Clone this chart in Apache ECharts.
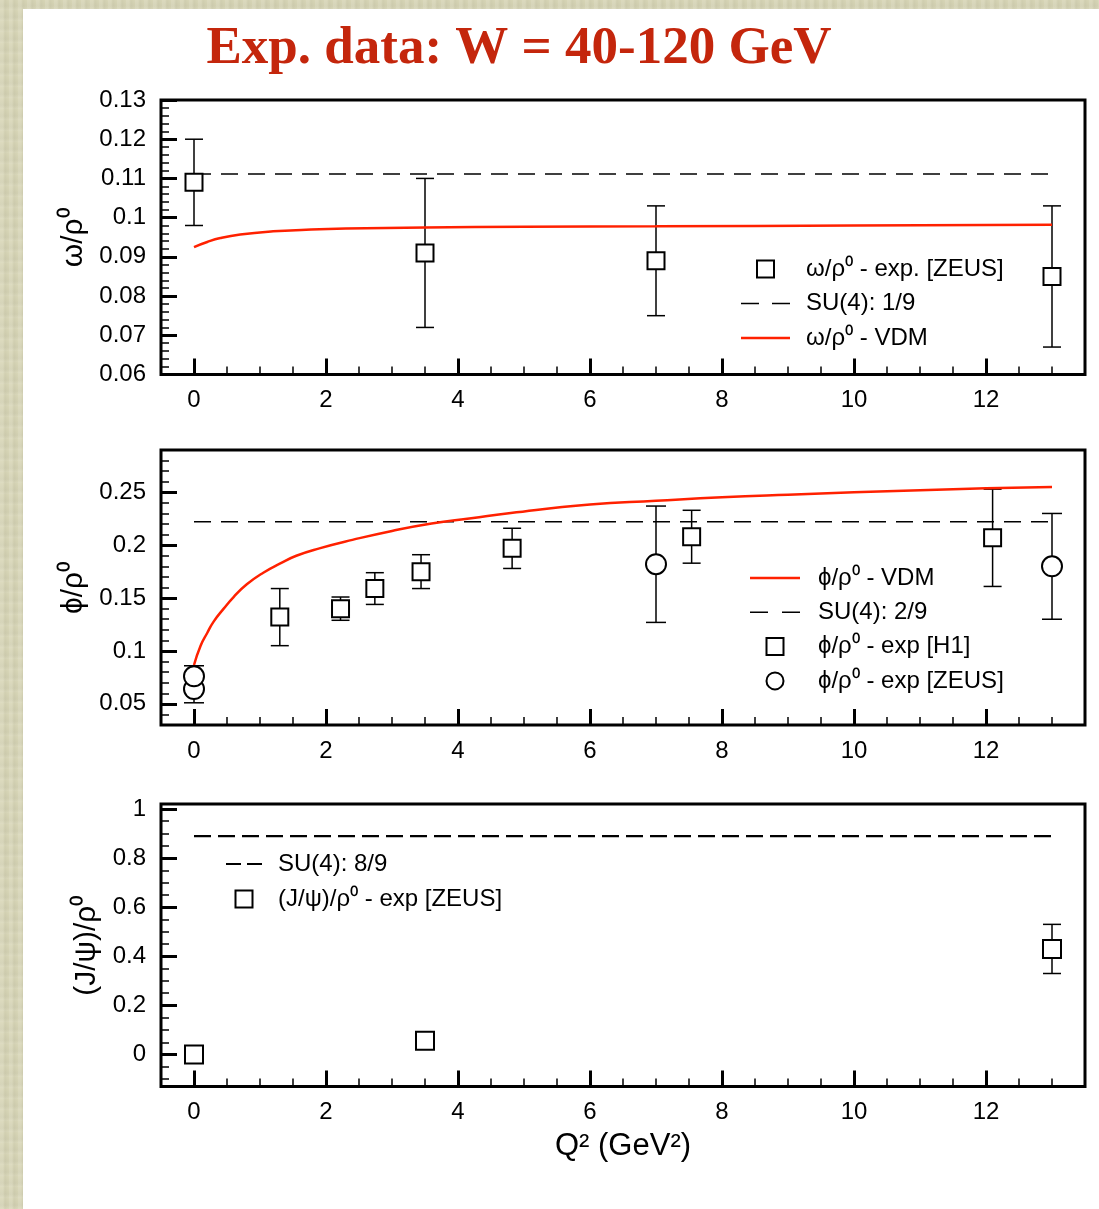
<!DOCTYPE html>
<html>
<head>
<meta charset="utf-8">
<script src="https://cdn.jsdelivr.net/npm/echarts@6/dist/echarts.min.js"></script>
<style>
  html, body { margin: 0; padding: 0; width: 1099px; height: 1209px; overflow: hidden; }
  body {
    background-color: #d8d6b7;
    background-image:
      repeating-linear-gradient(90deg, rgba(255,255,255,0.10) 0px, rgba(255,255,255,0.10) 3px, rgba(0,0,0,0.03) 5px, rgba(255,255,255,0) 9px),
      repeating-linear-gradient(0deg, rgba(255,255,255,0.06) 0px, rgba(0,0,0,0.03) 4px, rgba(255,255,255,0) 11px);
  }
  #sheet { position: absolute; left: 23px; top: 9px; right: 0; bottom: 0; background: #ffffff; }
  #chart { position: absolute; left: 0; top: 0; width: 1099px; height: 1209px; }
</style>
</head>
<body>
<div id="sheet"></div>
<div id="chart"></div>
<script>
// ---- omega / rho0 ----
const q2Omega = [0, 3.5, 7, 13];
const omegaRatio = [0.109, 0.091, 0.089, 0.085];
const omegaErr = [0.011, 0.019, 0.014, 0.018];
const q2OmegaVdm = [0, 0.2, 0.4, 0.7, 1.2, 1.7, 2.3, 3.5, 5, 7, 10, 13];
const omegaVdm = [0.0925, 0.0938, 0.0948, 0.0957, 0.0965, 0.0969, 0.0972, 0.0975, 0.0977, 0.0978, 0.0980, 0.0982];
const su4Omega = 1 / 9;

// ---- phi / rho0 ----
const q2PhiH1 = [1.3, 2.22, 2.74, 3.44, 4.82, 7.54, 12.1];
const phiH1 = [0.132, 0.140, 0.159, 0.175, 0.197, 0.208, 0.207];
const phiH1Err = [0.027, 0.011, 0.015, 0.016, 0.019, 0.025, 0.046];
const q2PhiZeus = [0, 0, 7, 13];
const phiZeus = [0.064, 0.076, 0.182, 0.180];
const phiZeusErr = [0.013, 0.010, 0.055, 0.050];
const q2PhiVdm = [0, 0.1, 0.2, 0.3, 0.45, 0.6, 0.8, 1.05, 1.3, 1.55, 1.9, 2.4, 3, 3.6, 4.2, 4.8, 6, 7, 8, 9, 10, 11, 12, 13];
const phiVdm = [0.0867, 0.105, 0.117, 0.128, 0.140, 0.151, 0.163, 0.174, 0.1825, 0.190, 0.197, 0.205, 0.2135, 0.2205, 0.2255, 0.2305, 0.2385, 0.242, 0.2453, 0.2478, 0.250, 0.252, 0.2538, 0.255];
const su4Phi = 2 / 9;

// ---- J/psi / rho0 ----
const q2Jpsi = [0, 3.5, 13];
const jpsiRatio = [0.0, 0.056, 0.43];
const jpsiErr = [0, 0, 0.1];
const su4Jpsi = 8 / 9;

// ---- axis ticks ----
const xTickLabels = [0, 2, 4, 6, 8, 10, 12];
const omegaTickLabels = [0.06, 0.07, 0.08, 0.09, 0.1, 0.11, 0.12, 0.13];
const phiTickLabels = [0.05, 0.1, 0.15, 0.2, 0.25];
const jpsiTickLabels = [0, 0.2, 0.4, 0.6, 0.8, 1];

const FONT = '"Liberation Sans", Arial, Helvetica, sans-serif';
const BLACK = '#000000';
const RED = '#ff2100';

// legend icons
const SQUARE_ICON = 'path://M0 0H10V10H0Z';
const SOLID_ICON = 'path://M0 0H49V2.5H0Z';
const DASH_ICON_49 = 'path://M0 0H18V1.6H0Z M31 0H49V1.6H31Z';
const DASH_ICON_50 = 'path://M0 0H18V1.6H0Z M32 0H50V1.6H32Z';
const DASH_ICON_36 = 'path://M0 0H15V2.2H0Z M21 0H36V2.2H21Z';

const rnd = v => Math.round(v * 10000) / 10000;
function steps(from, to, step, skip) {
  const out = [];
  const n = Math.round((to - from) / step);
  for (let i = 0; i <= n; i++) {
    const v = rnd(from + i * step);
    if (!skip.some(s => Math.abs(s - v) < 1e-9)) out.push(v);
  }
  return out;
}
const xMinor = steps(0.5, 13, 0.5, xTickLabels);

const panels = [
  { top: 100, height: 274.5, yMin: 0.06, yMax: 0.13, major: omegaTickLabels,
    minor: steps(0.062, 0.128, 0.002, omegaTickLabels), name: 'ω/ρ⁰', nameGap: 60 },
  { top: 450, height: 275, yMin: 0.03, yMax: 0.29, major: phiTickLabels,
    minor: steps(0.04, 0.28, 0.01, phiTickLabels), name: 'ϕ/ρ⁰', nameGap: 62 },
  { top: 804, height: 282.5, yMin: -0.13, yMax: 1.02, major: jpsiTickLabels,
    minor: steps(-0.1, 0.95, 0.05, jpsiTickLabels), name: '(J/ψ)/ρ⁰', nameGap: 43 }
];

const grids = [], xAxes = [], yAxes = [];
const hiddenLine = { show: false, onZero: false };
panels.forEach((p, i) => {
  grids.push({ left: 161, width: 924, top: p.top, height: p.height, show: true,
    borderColor: BLACK, borderWidth: 3, backgroundColor: 'transparent' });
  const labelStyle = { fontFamily: FONT, fontSize: 24, color: BLACK };
  // major x ticks with labels
  xAxes.push({ type: 'value', gridIndex: i, min: -0.5, max: 13.5, position: 'bottom',
    axisLine: hiddenLine, splitLine: { show: false },
    axisTick: { show: true, inside: true, length: 16, customValues: xTickLabels,
      lineStyle: { color: BLACK, width: 3 } },
    axisLabel: Object.assign({ show: true, margin: 14, customValues: xTickLabels }, labelStyle),
    name: i === 2 ? 'Q² (GeV²)' : '', nameLocation: 'middle', nameGap: 44,
    nameTextStyle: { fontFamily: FONT, fontSize: 31, color: BLACK } });
  // minor x ticks
  xAxes.push({ type: 'value', gridIndex: i, min: -0.5, max: 13.5, position: 'bottom',
    axisLine: hiddenLine, splitLine: { show: false }, axisLabel: { show: false },
    axisTick: { show: true, inside: true, length: 8, customValues: xMinor,
      lineStyle: { color: BLACK, width: 1.5 } } });
  // major y ticks with labels
  yAxes.push({ type: 'value', gridIndex: i, min: p.yMin, max: p.yMax, position: 'left',
    axisLine: hiddenLine, splitLine: { show: false },
    axisTick: { show: true, inside: true, length: 16, customValues: p.major,
      lineStyle: { color: BLACK, width: 3 } },
    axisLabel: Object.assign({ show: true, margin: 15, customValues: p.major,
      formatter: v => String(rnd(v)) }, labelStyle),
    name: p.name, nameLocation: 'middle', nameGap: p.nameGap,
    nameTextStyle: { fontFamily: FONT, fontSize: 30, color: BLACK } });
  // minor y ticks
  yAxes.push({ type: 'value', gridIndex: i, min: p.yMin, max: p.yMax, position: 'left',
    axisLine: hiddenLine, splitLine: { show: false }, axisLabel: { show: false },
    axisTick: { show: true, inside: true, length: 8, customValues: p.minor,
      lineStyle: { color: BLACK, width: 1.5 } } });
});

function errorBars(axis, xs, ys, lo, hi, cap) {
  return {
    type: 'custom', xAxisIndex: axis, yAxisIndex: axis, z: 3, silent: true,
    data: xs.map((x, k) => [x, ys[k] - lo[k], ys[k] + hi[k]]).filter(d => d[2] > d[1]),
    renderItem(params, api) {
      const a = api.coord([api.value(0), api.value(1)]);
      const b = api.coord([api.value(0), api.value(2)]);
      const h = cap / 2;
      const st = { stroke: BLACK, lineWidth: 1.5 };
      return { type: 'group', children: [
        { type: 'line', shape: { x1: a[0], y1: a[1], x2: b[0], y2: b[1] }, style: st },
        { type: 'line', shape: { x1: a[0] - h, y1: a[1], x2: a[0] + h, y2: a[1] }, style: st },
        { type: 'line', shape: { x1: b[0] - h, y1: b[1], x2: b[0] + h, y2: b[1] }, style: st }
      ] };
    }
  };
}
function markers(name, axis, xs, ys, symbol, size) {
  return { name, type: 'scatter', xAxisIndex: axis, yAxisIndex: axis, z: 5,
    symbol, symbolSize: size, data: xs.map((x, k) => [x, ys[k]]),
    itemStyle: { color: '#ffffff', borderColor: BLACK, borderWidth: 2, opacity: 1 } };
}
function curve(name, axis, xs, ys) {
  return { name, type: 'line', xAxisIndex: axis, yAxisIndex: axis, z: 4,
    symbol: 'none', showSymbol: false, smooth: 0.5,
    data: xs.map((x, k) => [x, ys[k]]),
    lineStyle: { color: RED, width: 2.5 }, itemStyle: { color: RED } };
}
function su4(name, axis, value, dash, width) {
  return { name, type: 'line', xAxisIndex: axis, yAxisIndex: axis, z: 2,
    symbol: 'none', showSymbol: false, data: [[0, value], [13, value]],
    lineStyle: { color: BLACK, width, type: dash }, itemStyle: { color: BLACK } };
}

const N_OMEGA_EXP = 'ω/ρ⁰ - exp. [ZEUS]';
const N_OMEGA_SU4 = 'SU(4): 1/9';
const N_OMEGA_VDM = 'ω/ρ⁰ - VDM';
const N_PHI_VDM = 'ϕ/ρ⁰ - VDM';
const N_PHI_SU4 = 'SU(4): 2/9';
const N_PHI_H1 = 'ϕ/ρ⁰ - exp [H1]';
const N_PHI_ZEUS = 'ϕ/ρ⁰ - exp [ZEUS]';
const N_JPSI_SU4 = 'SU(4): 8/9';
const N_JPSI_EXP = '(J/ψ)/ρ⁰ - exp [ZEUS]';

const series = [
  su4(N_OMEGA_SU4, 0, su4Omega, [17, 10], 1.5),
  curve(N_OMEGA_VDM, 0, q2OmegaVdm, omegaVdm),
  errorBars(0, q2Omega, omegaRatio, omegaErr, omegaErr, 18),
  markers(N_OMEGA_EXP, 0, q2Omega, omegaRatio, 'rect', 17),

  su4(N_PHI_SU4, 2, su4Phi, [17, 10], 1.5),
  curve(N_PHI_VDM, 2, q2PhiVdm, phiVdm),
  errorBars(2, q2PhiH1, phiH1, phiH1Err, phiH1Err, 18),
  errorBars(2, q2PhiZeus, phiZeus, phiZeusErr, phiZeusErr, 20),
  markers(N_PHI_H1, 2, q2PhiH1, phiH1, 'rect', 17),
  markers(N_PHI_ZEUS, 2, q2PhiZeus, phiZeus, 'circle', 20),

  su4(N_JPSI_SU4, 4, su4Jpsi, [17, 7], 2.2),
  errorBars(4, q2Jpsi, jpsiRatio, jpsiErr, jpsiErr, 18),
  markers(N_JPSI_EXP, 4, q2Jpsi, jpsiRatio, 'rect', 18)
];

const item = (name, icon, color) => ({ name, icon,
  itemStyle: color ? { color, borderWidth: 0 } : undefined });

function legendBlock(left, top, width, items, pad, gap) {
  return { left, top, orient: 'vertical', padding: 0, itemGap: gap,
    itemWidth: width, itemHeight: 17, selectedMode: false, symbolKeepAspect: true,
    data: items,
    textStyle: { fontFamily: FONT, fontSize: 24, color: BLACK, lineHeight: 24,
      padding: [0, 0, 0, pad] } };
}

const chart = echarts.init(document.getElementById('chart'), null, { renderer: 'canvas' });
chart.setOption({
  animation: false,
  backgroundColor: 'transparent',
  title: {
    text: 'Exp. data: W = 40-120 GeV', left: 519, top: 23, textAlign: 'center', padding: 0,
    textStyle: { fontFamily: '"Liberation Serif", "Times New Roman", serif', fontWeight: 'bold',
      fontSize: 53, color: '#c4260c' }
  },
  grid: grids,
  xAxis: xAxes,
  yAxis: yAxes,
  legend: [
    legendBlock(741, 257, 49, [
      item(N_OMEGA_EXP, SQUARE_ICON),
      item(N_OMEGA_SU4, DASH_ICON_49, BLACK),
      item(N_OMEGA_VDM, SOLID_ICON, RED)], 11, 10.5),
    legendBlock(750, 566, 50, [
      item(N_PHI_VDM, SOLID_ICON, RED),
      item(N_PHI_SU4, DASH_ICON_50, BLACK),
      item(N_PHI_H1, SQUARE_ICON),
      item(N_PHI_ZEUS, 'circle')], 13, 10.3),
    legendBlock(226, 852, 36, [
      item(N_JPSI_SU4, DASH_ICON_36, BLACK),
      item(N_JPSI_EXP, SQUARE_ICON)], 11, 11)
  ],
  series
});
</script>
</body>
</html>
